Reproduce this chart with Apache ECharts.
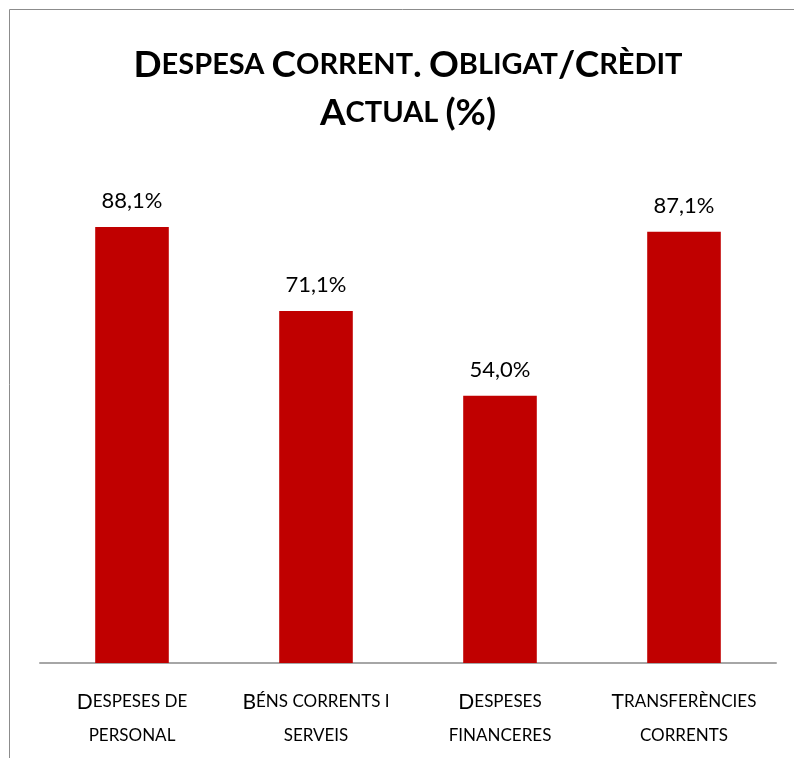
<!DOCTYPE html>
<html><head><meta charset="utf-8">
<script src="https://cdn.jsdelivr.net/npm/echarts@6/dist/echarts.min.js"></script>
<style>html,body{margin:0;padding:0;background:#fff}#c{width:794px;height:758px}</style>
</head><body><div id="c"></div>
<script>
const categories = ["Despeses de\npersonal", "Béns corrents i\nserveis", "Despeses\nfinanceres", "Transferències\ncorrents"];
const values = [88.1, 71.1, 54.0, 87.1];
const titleText = "Despesa Corrent. Obligat/Crèdit\nActual (%)";

// small-caps emulation: uppercase/others -> style a, lowercase -> style b (uppercased)
function sc(str, A, B) {
  return str.split('\n').map(line => {
    let out = '', cur = null, buf = '';
    for (const ch of line) {
      const isLower = ch !== ch.toUpperCase();
      const cls = isLower || ch === ' ' ? B : A;
      if (cls !== cur) { if (buf) out += '{' + cur + '|' + buf + '}'; buf = ''; cur = cls; }
      buf += isLower ? ch.toUpperCase() : ch;
    }
    if (buf) out += '{' + cur + '|' + buf + '}';
    return out;
  }).join('\n');
}

const FONT = 'Lato';
const chart = echarts.init(document.getElementById('c'), null, {renderer: 'canvas'});
chart.setOption({
  animation: false,
  backgroundColor: '#fff',
  title: {
    text: sc(titleText, 'a', 'b'),
    left: 403, top: 36, textAlign: 'center',
    textStyle: {
      fontFamily: FONT, fontWeight: 'bold', color: '#000', lineHeight: 48,
      rich: {
        a: {fontFamily: FONT, fontWeight: 'bold', fontSize: 37, color: '#000', lineHeight: 48},
        b: {fontFamily: FONT, fontWeight: 'bold', fontSize: 29, color: '#000', lineHeight: 48}
      }
    }
  },
  graphic: [{
    type: 'rect', silent: true,
    shape: {x: 9.5, y: 9.5, width: 1000, height: 1000},
    style: {fill: 'none', stroke: '#8c8c8c', lineWidth: 1}
  }],
  grid: {left: 40, right: 18, top: 168, bottom: 95, containLabel: false},
  xAxis: {
    type: 'category', data: categories,
    axisLine: {show: true, lineStyle: {color: '#a6a6a6', width: 2}},
    axisTick: {show: false},
    axisLabel: {
      margin: 22, interval: 0,
      formatter: v => sc(v, 'a', 'b'),
      rich: {
        a: {fontFamily: FONT, fontSize: 21, color: '#000', lineHeight: 34},
        b: {fontFamily: FONT, fontSize: 17, color: '#000', lineHeight: 34}
      }
    }
  },
  yAxis: {
    type: 'value', min: 0, max: 100, interval: 20, show: false,
    splitLine: {show: false}
  },
  series: [{
    type: 'bar', data: values, barWidth: '40%',
    itemStyle: {color: '#c00000'},
    label: {
      show: true, position: 'top', distance: 15,
      fontFamily: FONT, fontSize: 22, color: '#000',
      formatter: p => p.value.toFixed(1).replace('.', ',') + '%'
    }
  }]
});
</script></body></html>
